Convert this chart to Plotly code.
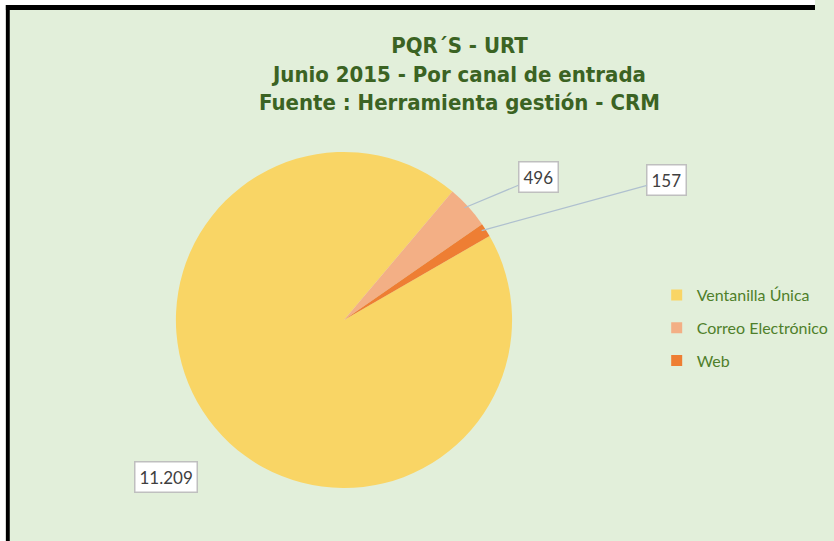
import math
import plotly.graph_objects as go

# ---- data ----
categories = ["Ventanilla Única", "Correo Electrónico", "Web"]
values = [11209, 496, 157]
colors = ["#F9D565", "#F3AF85", "#EE7E33"]
title_lines = ["PQR´S - URT", "Junio 2015 - Por canal de entrada", "Fuente : Herramienta gestión - CRM"]

W, H = 834, 541
BG = "#E2EFDA"

# pie geometry (pixels)
cx, cy, r = 352, 320, 172
rotation = 60

fig = go.Figure()
fig.add_trace(go.Pie(
    labels=categories,
    values=values,
    marker=dict(colors=colors, line=dict(width=0)),
    sort=False,
    direction="clockwise",
    rotation=rotation,
    textinfo="none",
    hoverinfo="label+value",
    showlegend=False,
    domain=dict(x=[(cx - r) / W, (cx + r) / W], y=[(H - cy - r) / H, (H - cy + r) / H]),
))

# legend entries (one per category, same colours as the slices)
for name, col in zip(categories, colors):
    fig.add_trace(go.Scatter(
        x=[None], y=[None], mode="markers", name=name, legendgroup=name,
        marker=dict(symbol="square", size=11, color=col),
        showlegend=True, hoverinfo="skip",
    ))

def fmt(v):
    return f"{v:,}".replace(",", ".")

# slice mid-angles computed from the data
total = sum(values)
start = rotation
mids = []
for v in values:
    span = 360 * v / total
    mids.append(start + span / 2)
    start += span

annotations = []
label_pos = {0: (137, 477), 1: (549, 177), 2: (678, 180)}
for i, v in enumerate(values):
    lx, ly = label_pos[i]
    common = dict(
        text=fmt(v), font=dict(family="Lato, Open Sans, sans-serif", size=17, color="#404040"),
        bgcolor="white", bordercolor="#BFBFBF", borderwidth=1.5, borderpad=4,
    )
    if i == 0:
        annotations.append(dict(x=lx / W, y=1 - ly / H, xref="paper", yref="paper",
                                xanchor="left", yanchor="middle",
                                showarrow=False, **common))
    else:
        a = math.radians(mids[i])
        ppx = cx + r * 0.97 * math.sin(a)
        ppy = cy - r * 0.97 * math.cos(a)
        annotations.append(dict(x=ppx / W, y=1 - ppy / H, xref="paper", yref="paper",
                                showarrow=True, arrowhead=0, arrowwidth=1.2, arrowcolor="#AFC0CF",
                                ax=lx - ppx, ay=ly - ppy, **common))

annotations.append(dict(
    x=470 / W, y=1 - 31 / H, xref="paper", yref="paper", xanchor="center", yanchor="top",
    showarrow=False, align="center",
    text="<br>".join(f"<b>{t}</b>" for t in title_lines),
    font=dict(family="DejaVu Sans Condensed, sans-serif", size=22, color="#3B6323"),
))

shapes = [
    dict(type="rect", xref="paper", yref="paper", x0=0, x1=1, y0=1 - 5 / H, y1=1,
         fillcolor="white", line=dict(width=0)),
    dict(type="rect", xref="paper", yref="paper", x0=0, x1=6 / W, y0=0, y1=1,
         fillcolor="white", line=dict(width=0)),
    dict(type="rect", xref="paper", yref="paper", x0=6 / W, x1=1, y0=1 - 10 / H, y1=1 - 5 / H,
         fillcolor="black", line=dict(width=0)),
    dict(type="rect", xref="paper", yref="paper", x0=6 / W, x1=10 / W, y0=0, y1=1 - 5 / H,
         fillcolor="black", line=dict(width=0)),
]

fig.update_layout(
    width=W, height=H,
    margin=dict(l=0, r=0, t=0, b=0),
    paper_bgcolor=BG, plot_bgcolor=BG,
    separators=",.",
    xaxis=dict(visible=False), yaxis=dict(visible=False),
    showlegend=True,
    legend=dict(x=672 / W, y=1 - 278 / H, xanchor="left", yanchor="top",
                tracegroupgap=9, itemclick=False, itemdoubleclick=False,
                font=dict(family="Lato, Open Sans, sans-serif", size=16, color="#4F7F2A"),
                bgcolor="rgba(0,0,0,0)"),
    annotations=annotations,
    shapes=shapes,
)

fig.write_html("out.html", config={"displayModeBar": False},
               post_script="document.body.style.margin='0';")
